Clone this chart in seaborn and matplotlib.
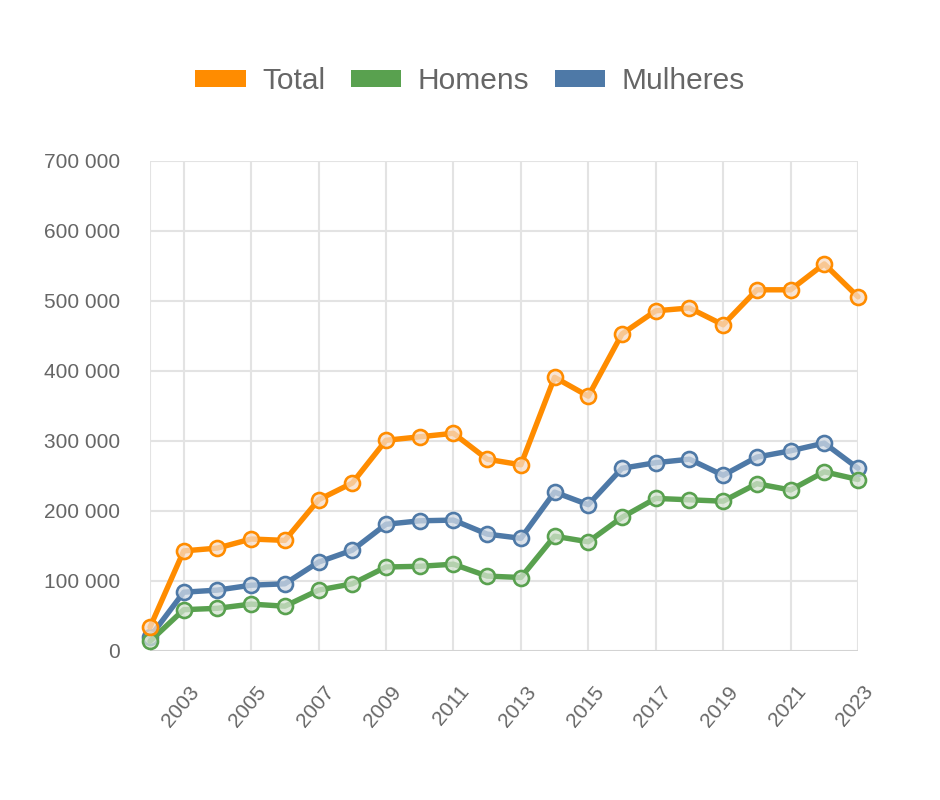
import matplotlib
matplotlib.use("Agg")
import pandas as pd
import matplotlib.pyplot as plt
import matplotlib.transforms as mtransforms
import seaborn as sns
from matplotlib.colors import to_rgba
from matplotlib.patches import Patch
from matplotlib.ticker import FuncFormatter, FixedLocator

years = list(range(2002, 2024))
total = [34000, 143000, 147000, 160000, 158000, 216000, 240000, 301000, 306000, 311000, 274000,
         266000, 391000, 364000, 453000, 486000, 490000, 466000, 516000, 516000, 553000, 506000]
homens = [14000, 59000, 61000, 67000, 64000, 87000, 96000, 120000, 121000, 124000, 107000,
          105000, 164000, 156000, 191000, 218000, 216000, 214000, 239000, 230000, 256000, 245000]
mulheres = [20000, 84000, 87000, 94000, 96000, 127000, 144000, 181000, 186000, 187000, 167000,
            161000, 227000, 209000, 261000, 269000, 274000, 251000, 277000, 286000, 297000, 261000]

series = ["Total", "Homens", "Mulheres"]
colors = {"Total": "#FF8C00", "Homens": "#59A14F", "Mulheres": "#4E79A7"}
faces = {"Total": "#F6DCC6", "Homens": "#D3E2CF", "Mulheres": "#CFD9E4"}

df = pd.DataFrame({"Ano": years, "Total": total, "Homens": homens, "Mulheres": mulheres})
long = df.melt(id_vars="Ano", var_name="Serie", value_name="Valor")

sns.set_style("white")
plt.rcParams["font.family"] = ["Liberation Sans", "DejaVu Sans"]

fig = plt.figure(figsize=(9.4, 8), dpi=100)
ax = fig.add_axes([150 / 940, 1 - 651 / 800, 708 / 940, 490 / 800])

# draw last series first so Total sits on top
for i, s in enumerate(reversed(series)):
    sub = long[long["Serie"] == s]
    sns.lineplot(data=sub, x="Ano", y="Valor", ax=ax, color=colors[s], linewidth=3.9,
                 marker="o", markersize=10.8, markeredgewidth=1.9,
                 markerfacecolor=to_rgba(faces[s], 0.75), markeredgecolor=colors[s],
                 zorder=3 + i, clip_on=False)

ax.set_xlim(2002, 2023)
ax.set_ylim(0, 700000)
ax.set_xlabel("")
ax.set_ylabel("")

grid_c = "#E3E3E3"
ax.yaxis.set_major_locator(FixedLocator(range(0, 700001, 100000)))
ax.yaxis.set_major_formatter(FuncFormatter(lambda v, p: f"{int(v):,}".replace(",", " ")))
ax.set_xticks(list(range(2003, 2024, 2)))
ax.set_xticklabels([str(y) for y in range(2003, 2024, 2)], rotation=50, ha="right",
                   va="center", rotation_mode="anchor")

ax.grid(True, color=grid_c, linewidth=1.5)
ax.axvline(2002, color=grid_c, linewidth=1.5, zorder=0)
ax.tick_params(axis="y", length=14.4, width=1.5, color=grid_c, labelsize=15, labelcolor="#666666", pad=7)
ax.tick_params(axis="x", length=14.4, width=1.5, color=grid_c, labelsize=15, labelcolor="#666666", pad=12.5)
shift = mtransforms.ScaledTranslation(0.12, 0, fig.dpi_scale_trans)
for lab in ax.get_xticklabels():
    lab.set_transform(lab.get_transform() + shift)
for sp in ax.spines.values():
    sp.set_visible(False)
ax.axhline(0, color="#D2D2D2", linewidth=2, zorder=1)

handles = [Patch(facecolor=colors[s], edgecolor="none", label=s) for s in series]
fig.legend(handles=handles, loc="center", bbox_to_anchor=(0.5, 0.899), ncol=3, frameon=False,
           fontsize=21.5, labelcolor="#666666", handlelength=1.7, handleheight=0.5,
           handletextpad=0.55, columnspacing=0.85)

fig.savefig("out.png", dpi=100)
